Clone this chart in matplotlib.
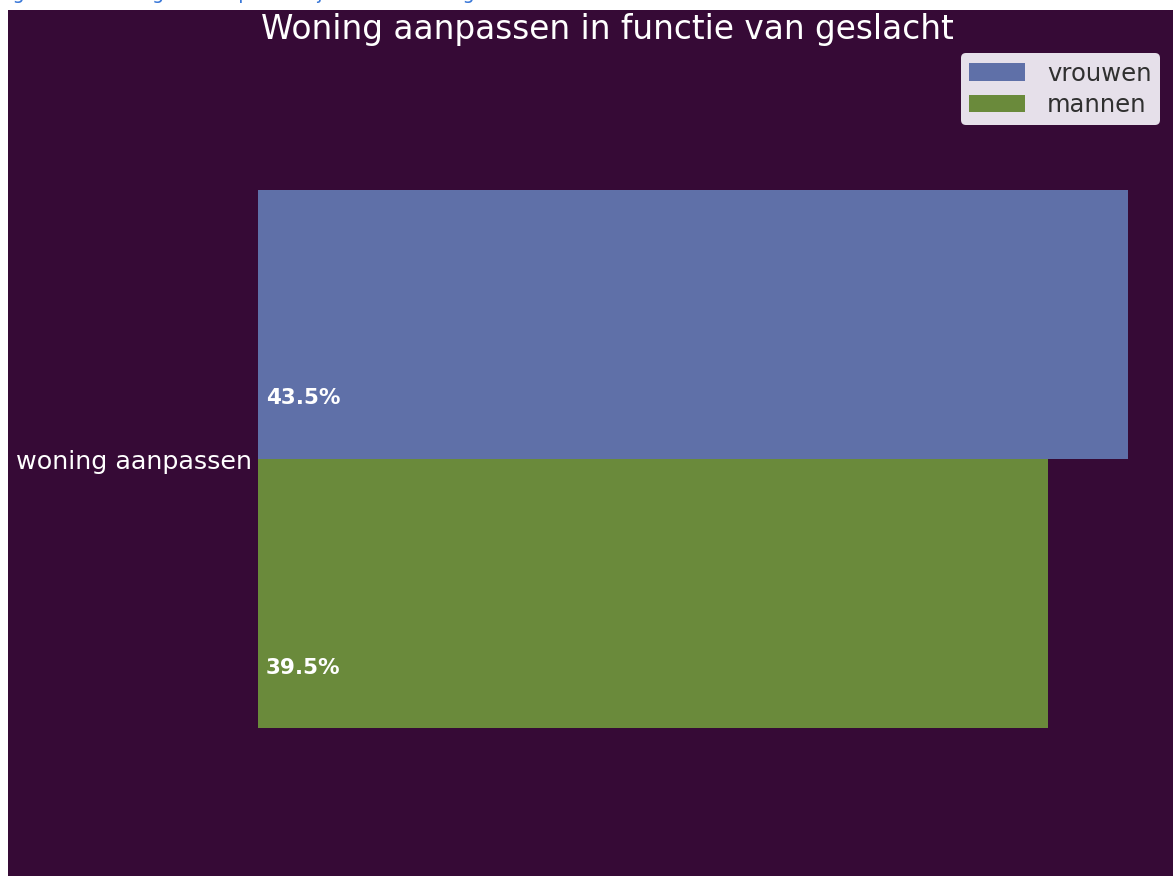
import matplotlib
matplotlib.use("Agg")
import matplotlib.pyplot as plt
from matplotlib.patches import Rectangle

categories = ["woning aanpassen"]
groups = ["vrouwen", "mannen"]
vrouwen = [43.5]
mannen = [39.5]

bg = "#360a36"
colors = ["#5f70a8", "#6a8a3b"]

fig = plt.figure(figsize=(11.73, 8.76), dpi=100, facecolor=bg)
ax = fig.add_axes([258 / 1173, 1 - 755 / 876, (1172 - 258) / 1173, (755 - 163) / 876])
ax.set_facecolor(bg)

h = 0.4
ax.barh([0 + h / 2], vrouwen, height=h, color=colors[0], label=groups[0])
ax.barh([0 - h / 2], mannen, height=h, color=colors[1], label=groups[1])

# percentage labels near the bottom of each bar
for val, yc in [(vrouwen[0], h / 2), (mannen[0], -h / 2)]:
    ax.text(0.4, yc - h / 2 + 0.09, f"{val}%", color="white", fontsize=15.5,
            fontweight="bold", ha="left", va="center")

ax.set_xlim(0, 45.7)
ax.set_ylim(-0.44, 0.44)
ax.set_yticks([0])
ax.set_yticklabels(categories, color="white", fontsize=18.3)
ax.tick_params(axis="y", length=0, pad=4)
ax.set_xticks([])
for s in ax.spines.values():
    s.set_visible(False)

fig.text(607 / 1173, 1 - 30 / 876, "Woning aanpassen in functie van geslacht",
         color="white", fontsize=23.6, ha="center", va="center")

leg = ax.legend(loc="upper right", bbox_to_anchor=(1160 / 1173, 1 - 53 / 876),
                bbox_transform=fig.transFigure, borderaxespad=0, fontsize=17.5,
                facecolor="#e6e0ea", edgecolor="none", framealpha=1,
                handlelength=2.3, handletextpad=0.9, borderpad=0.35,
                labelspacing=0.3, fancybox=True)
for t in leg.get_texts():
    t.set_color("#303030")

# white document margin + cut-off caption of the original page
fig.patches.append(Rectangle((0, 0), 8 / 1173, 1, transform=fig.transFigure,
                             facecolor="white", edgecolor="none", zorder=5))
fig.patches.append(Rectangle((0, 1 - 10 / 876), 1, 10 / 876, transform=fig.transFigure,
                             facecolor="white", edgecolor="none", zorder=5))
fig.text(-3 / 1173, 1 + 1 / 876, "Figuur 17: Staafgrafiek op een bijkomende vraag",
         color="#3a78d8", fontsize=14, ha="left", va="baseline", zorder=6)

fig.savefig("out.png", dpi=100, facecolor=fig.get_facecolor())
